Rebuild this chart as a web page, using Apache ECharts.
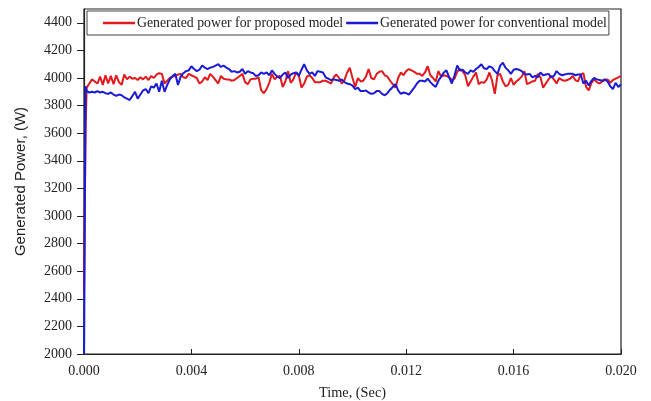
<!DOCTYPE html>
<html>
<head>
<meta charset="utf-8">
<script src="https://cdn.jsdelivr.net/npm/echarts@6/dist/echarts.min.js"></script>
<style>html,body{margin:0;padding:0;background:#fff;}#c{width:651px;height:401px;}</style>
</head>
<body>
<div id="c"></div>
<script>
// Start-up samples (s)
const startTimes = [0, 0.00003, 0.00006];
const redStart  = [2440, 3050, 3650];
const blueStart = [2000, 3050, 3940];
// Then one sample every 0.0001 s from 0.0001 to 0.0200
const step = 0.0001;
const redValues = [
 3930,3960,3990,3975,3960,4010,3950,4020,3960,4015,3955,4020,3970,3950,4025,3990,4010,3995,4000,3985,
 4005,3990,4010,3985,4015,4000,4025,4035,4030,3960,3980,4000,4010,
 4015,4025,4030,4005,4000,4030,4020,4010,4000,3960,3975,4005,3985,4030,4010,3985,3960,4015,3995,3990,
 3990,3980,3985,4000,4015,4030,3970,3955,3990,3995,3995,4005,3910,3890,
 3920,3965,4030,3990,4010,4015,3935,3975,4050,3965,3990,4040,4020,3930,3960,4010,4020,4000,3970,3970,
 3970,3980,3980,3970,3960,4005,4025,4000,3960,3985,4040,4075,4000,3935,
 4000,3975,3980,4010,4065,4000,3990,4030,4045,4050,4020,4010,3980,3955,3930,4000,4040,4020,4050,4065,
 4055,4045,4030,4030,4015,4040,4085,4020,4000,3975,4050,4010,4020,
 4015,4005,3985,3995,4045,4065,4050,4020,3940,3975,4010,4040,3955,3970,3965,3990,4040,3980,3885,4020,
 4030,3975,3940,3950,4000,3950,3975,3990,4010,4050,3955,3965,3975,3980,
 4030,4005,3930,3960,3990,4015,3990,3960,4000,3985,3980,3985,3995,4015,3985,3975,4025,4035,3935,3910,
 3965,3990,3970,3960,3975,3985,3990,3965,3985,3995,4005,4015
];
const blueValues = [
 3905,3895,3900,3895,3905,3895,3900,3890,3885,3895,3880,3870,3880,3875,3860,3850,3840,3870,3900,3850,
 3880,3910,3920,3890,3940,3930,3960,3900,3980,3900,3950,3990,4015,
 4030,3950,4010,4035,4050,4055,4085,4065,4050,4060,4090,4075,4065,4075,4080,4090,4100,4080,4090,4075,
 4065,4045,4050,4040,4045,4065,4030,4050,4040,4035,4015,4020,4040,4030,
 4040,4020,4055,4030,4010,4000,4025,4040,4000,4025,4035,4040,4015,4060,4100,4055,4030,4040,4015,4050,
 4045,4040,4005,3995,3985,3990,3985,3980,3990,3970,3960,3955,3945,3920,
 3930,3905,3905,3910,3895,3885,3890,3905,3905,3885,3875,3890,3915,3935,3955,3910,3885,3895,3890,3880,
 3905,3930,3960,3980,3980,3975,3995,3970,3950,3935,3980,4010,4040,
 4055,4005,3960,4020,4090,4055,4060,4040,4030,4055,4045,4065,4080,4100,4070,4065,4085,4075,4050,4030,
 4090,4110,4075,4055,4030,4060,4065,4060,4050,4030,4025,4030,4005,4015,
 4005,4040,4020,4025,4030,4005,4015,4050,4030,4020,4025,4030,4030,4030,4020,4025,4025,3960,3980,3945,
 3980,4000,3990,3985,3980,3990,3975,3940,3920,3965,3935,3955
];
const yTicks = [2000,2200,2400,2600,2800,3000,3200,3400,3600,3800,4000,4200,4400];
const xTicks = [0, 0.004, 0.008, 0.012, 0.016, 0.020];

function buildPairs(startT, startV, vals) {
  const out = [];
  for (let i = 0; i < startT.length; i++) out.push([startT[i], startV[i]]);
  for (let i = 0; i < vals.length; i++) out.push([+(step * (i + 1)).toFixed(5), vals[i]]);
  return out;
}

const chart = echarts.init(document.getElementById('c'), null, {renderer: 'canvas'});
const serif = "'Liberation Serif', 'Times New Roman', serif";
chart.setOption({
  animation: false,
  backgroundColor: '#fff',
  grid: {left: 84, right: 30, top: 9, bottom: 47, show: true, borderColor: '#222', borderWidth: 1.2,
         backgroundColor: 'transparent', containLabel: false, outerBoundsMode: 'none'},
  legend: {
    left: 87, top: 11,
    data: ['Generated power for proposed model', 'Generated power for conventional model'],
    icon: 'rect', itemWidth: 32, itemHeight: 2.5, itemGap: 3,
    borderColor: '#444', borderWidth: 1, padding: [5, 2, 5, 16],
    textStyle: {fontFamily: serif, fontSize: 13.8, color: '#222', padding: [0, 0, 0, -3]}
  },
  xAxis: {
    type: 'value', min: 0, max: 0.02, interval: 0.004,
    name: 'Time, (Sec)', nameLocation: 'middle', nameGap: 32,
    nameTextStyle: {fontFamily: serif, fontSize: 14.3, color: '#222'},
    axisLine: {show: true, lineStyle: {color: '#222', width: 1.2}},
    axisTick: {show: true, inside: true, length: 5, lineStyle: {color: '#222'}},
    axisLabel: {fontFamily: serif, fontSize: 14, color: '#222', margin: 10,
      formatter: v => v.toFixed(3)},
    splitLine: {show: false}
  },
  yAxis: {
    type: 'value', min: 2000, max: 4500, interval: 200,
    name: 'Generated Power, (W)', nameLocation: 'middle', nameGap: 56,
    nameTextStyle: {fontFamily: "'Liberation Sans', Arial, sans-serif", fontSize: 15, color: '#222'},
    axisLine: {show: true, lineStyle: {color: '#222', width: 1.2}},
    axisTick: {show: true, inside: false, length: 7, customValues: yTicks, lineStyle: {color: '#222'}},
    axisLabel: {fontFamily: serif, fontSize: 14, color: '#222', margin: 12, customValues: yTicks,
      formatter: v => String(v)},
    splitLine: {show: false}
  },
  series: [
    {name: 'Generated power for proposed model', type: 'line', showSymbol: false,
     data: buildPairs(startTimes, redStart, redValues),
     lineStyle: {color: '#e3191c', width: 2}, itemStyle: {color: '#e3191c'}},
    {name: 'Generated power for conventional model', type: 'line', showSymbol: false,
     data: buildPairs(startTimes, blueStart, blueValues),
     lineStyle: {color: '#1b1bd6', width: 2}, itemStyle: {color: '#1b1bd6'}}
  ]
});
</script>
</body>
</html>
